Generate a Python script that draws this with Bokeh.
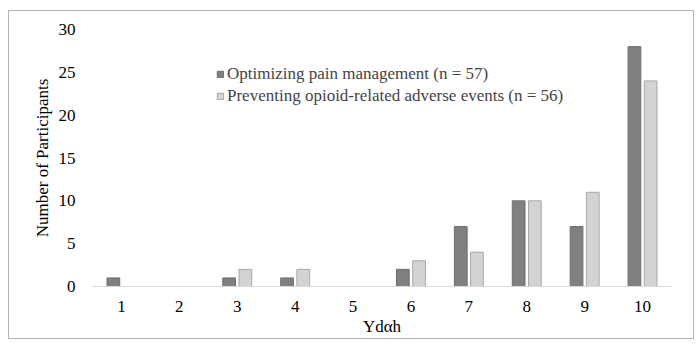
from bokeh.plotting import figure
from bokeh.models import ColumnDataSource, FixedTicker, Range1d, Legend, LegendItem
from bokeh.transform import dodge
from bokeh.embed import file_html
from bokeh.resources import INLINE

values = [1, 2, 3, 4, 5, 6, 7, 8, 9, 10]
pain_mgmt = [1, 0, 1, 1, 0, 2, 7, 10, 7, 28]
adverse_events = [0, 0, 2, 2, 0, 3, 4, 10, 11, 24]
series_names = ["Optimizing pain management (n = 57)",
                "Preventing opioid-related adverse events (n = 56)"]
y_ticks = [0, 5, 10, 15, 20, 25, 30]

src = ColumnDataSource(dict(x=values, a=pain_mgmt, b=adverse_events))

FONT = "Liberation Serif"

p = figure(width=686, height=329, output_backend="svg", toolbar_location=None,
           x_range=Range1d(0.5, 10.5), y_range=Range1d(0, 30),
           min_border_left=83, min_border_right=24, min_border_top=18, min_border_bottom=54)
p.margin = (10, 0, 0, 8)
p.styles = {"border": "1px solid #b4b4b4"}
p.outline_line_color = None
p.xgrid.grid_line_color = None
p.ygrid.grid_line_color = None

r1 = p.vbar(x=dodge("x", -0.14, range=p.x_range), top="a", width=0.22, source=src,
            fill_color="#808080", line_color="#6e6e6e", line_width=1)
r2 = p.vbar(x=dodge("x", 0.14, range=p.x_range), top="b", width=0.22, source=src,
            fill_color="#d3d3d3", line_color="#a8a8a8", line_width=1)

p.xaxis.ticker = FixedTicker(ticks=values)
p.yaxis.ticker = FixedTicker(ticks=y_ticks)
for ax in (p.xaxis[0], p.yaxis[0]):
    ax.major_tick_line_color = None
    ax.minor_tick_line_color = None
    ax.major_label_text_font = FONT
    ax.major_label_text_font_size = "17px"
    ax.major_label_text_color = "#000000"
    ax.axis_label_text_font = FONT
    ax.axis_label_text_font_size = "17px"
    ax.axis_label_text_font_style = "normal"
    ax.axis_label_text_color = "#000000"
p.xaxis.axis_line_color = "#d9d9d9"
p.yaxis.axis_line_color = None
p.xaxis.axis_label = "Ydαh"
p.yaxis.axis_label = "Number of Participants"
p.xaxis.major_label_standoff = 8
p.yaxis.major_label_standoff = 11
p.xaxis.axis_label_standoff = 2
p.yaxis.axis_label_standoff = 4

legend = Legend(items=[LegendItem(label=series_names[0], renderers=[r1]),
                       LegendItem(label=series_names[1], renderers=[r2])],
                location=(124, 180), glyph_width=8, glyph_height=8,
                label_text_font=FONT, label_text_font_size="17px",
                label_standoff=3, spacing=2, padding=0, margin=0,
                border_line_color=None, background_fill_alpha=0,
                label_height=17)
p.add_layout(legend, "center")

open("out.html", "w").write(file_html(p, INLINE))
